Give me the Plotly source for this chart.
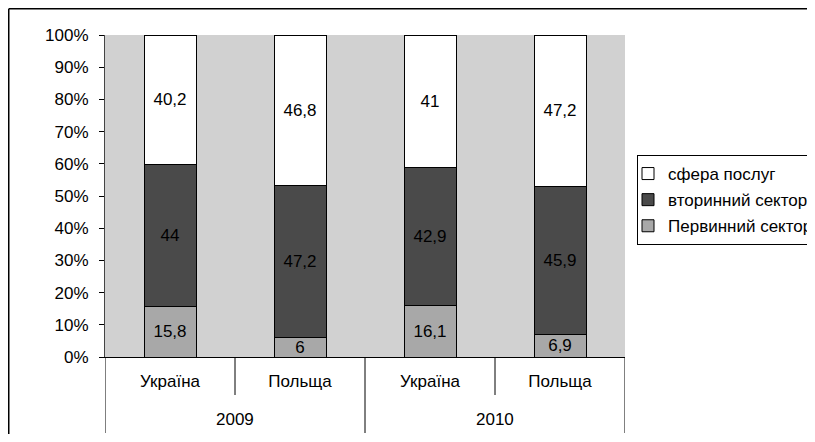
import plotly.graph_objects as go

countries = ["Україна", "Польща", "Україна", "Польща"]
years = ["2009", "2010"]
primary = [15.8, 6, 16.1, 6.9]
secondary = [44, 47.2, 42.9, 45.9]
services = [40.2, 46.8, 41, 47.2]
series_names = ["Первинний сектор", "вторинний сектор", "сфера послуг"]
y_ticks = [0, 10, 20, 30, 40, 50, 60, 70, 80, 90, 100]

colors = ["#A8A8A8", "#4A4A4A", "#FFFFFF"]
ranks = [3, 2, 1]
xs = list(range(len(countries)))
FONT = "Liberation Sans, Arial"
FS = 17


def fmt(v):
    return ("%g" % v).replace(".", ",")


fig = go.Figure()
for name, vals, col, rk in zip(series_names, [primary, secondary, services], colors, ranks):
    fig.add_trace(go.Bar(
        x=xs, y=vals, name=name, legendgroup=name, legendrank=rk,
        marker=dict(color=col, line=dict(color="black", width=1)),
        width=0.4,
        text=[fmt(v) for v in vals],
        textposition="inside", insidetextanchor="middle",
        constraintext="none", textangle=0,
        textfont=dict(color="black", size=FS, family=FONT),
        hoverinfo="skip",
    ))

# page body has an 8px margin, so figure coords = screen coords - 8
W, H = 807, 426
L, R, T, B = 97, 617, 27, 349
pw, ph = R - L, B - T

fig.update_layout(
    width=W, height=H,
    barmode="stack",
    paper_bgcolor="white",
    plot_bgcolor="#D1D1D1",
    margin=dict(l=L, r=W - R, t=T, b=H - B, autoexpand=False),
    font=dict(family=FONT, size=FS, color="black"),
    showlegend=True,
    legend=dict(
        x=(629 - L) / pw, y=(B - 147) / ph, xanchor="left", yanchor="top",
        bordercolor="black", borderwidth=1, bgcolor="white",
        traceorder="grouped", tracegroupgap=1,
        indentation=-10,
        font=dict(size=FS, family=FONT),
        itemwidth=30,
    ),
    xaxis=dict(
        range=[-0.5, len(countries) - 0.5],
        tickvals=xs, ticktext=countries,
        showline=True, linecolor="black", linewidth=1,
        ticks="", showgrid=False, zeroline=False,
        ticklabelstandoff=9,
        tickfont=dict(size=FS),
        fixedrange=True,
    ),
    yaxis=dict(
        range=[0, 100], tickvals=y_ticks,
        ticktext=["%d%%" % v for v in y_ticks],
        showline=True, linecolor="#444444", linewidth=1,
        ticks="outside", ticklen=5, tickcolor="black",
        showgrid=False, zeroline=False,
        ticklabelstandoff=7,
        tickfont=dict(size=FS),
        fixedrange=True,
    ),
)

shapes = []
for xv, full in [(-0.5, True), (0.5, False), (1.5, True), (2.5, False), (3.5, True)]:
    y1 = (B - 425) / ph if full else (B - 387) / ph
    shapes.append(dict(type="line", xref="x", yref="paper", x0=xv, x1=xv,
                       y0=0, y1=y1, line=dict(color="black", width=1)))
# outer chart border: only the top and left edges are visible
bx0 = (0.75 - L) / pw
by1 = (B - 0.75) / ph
shapes.append(dict(type="line", xref="paper", yref="paper",
                   x0=bx0, x1=(W + 20 - L) / pw, y0=by1, y1=by1,
                   line=dict(color="black", width=1.5), layer="below"))
shapes.append(dict(type="line", xref="paper", yref="paper",
                   x0=bx0, x1=bx0, y0=by1, y1=(B - H - 20) / ph,
                   line=dict(color="black", width=1.5), layer="below"))
fig.update_layout(shapes=shapes)

for i, yr in enumerate(years):
    fig.add_annotation(x=2 * i + 0.5, y=(B - 411) / ph, xref="x", yref="paper",
                       text=yr, showarrow=False, font=dict(size=FS),
                       xanchor="center", yanchor="middle")

fig.write_html("out.html")
